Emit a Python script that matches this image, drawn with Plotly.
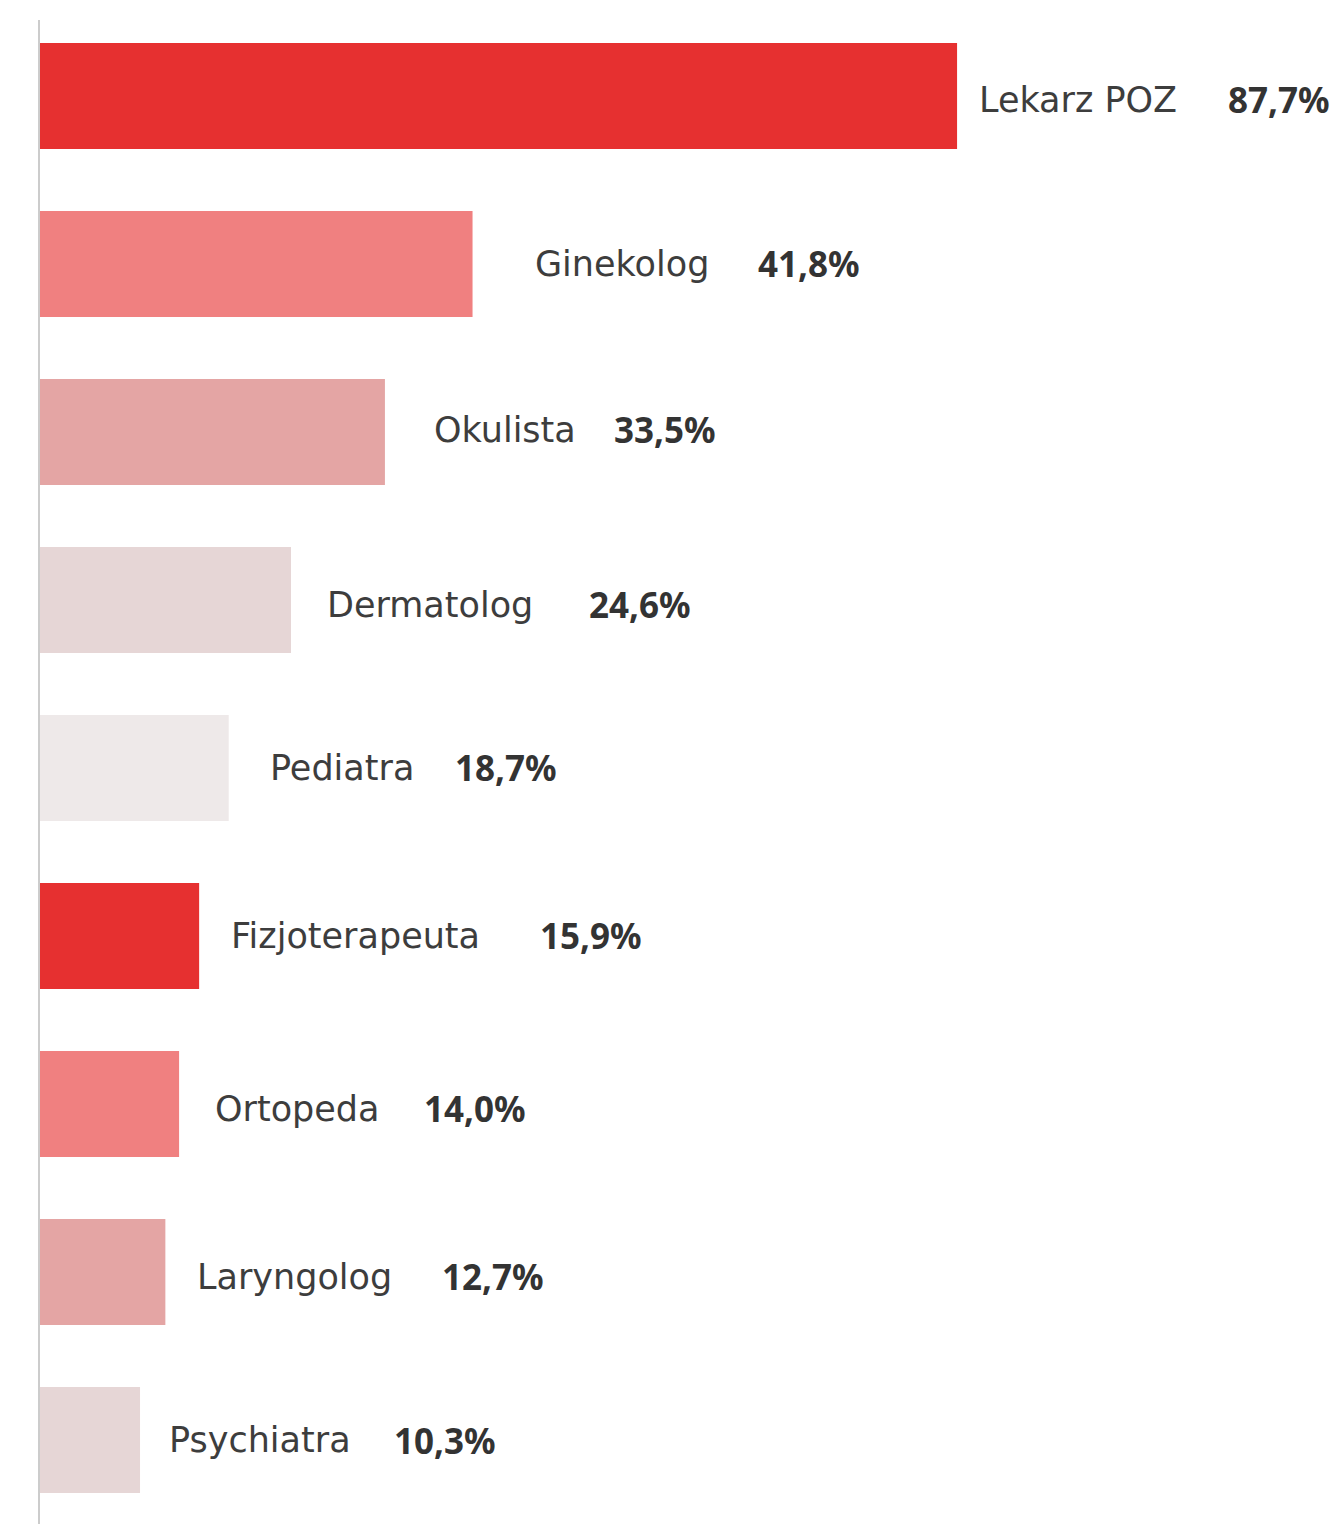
import plotly.graph_objects as go

categories = ["Lekarz POZ", "Ginekolog", "Okulista", "Dermatolog", "Pediatra",
              "Fizjoterapeuta", "Ortopeda", "Laryngolog", "Psychiatra"]
values = [87.7, 41.8, 33.5, 24.6, 18.7, 15.9, 14.0, 12.7, 10.3]
value_labels = ["87,7%", "41,8%", "33,5%", "24,6%", "18,7%", "15,9%", "14,0%", "12,7%", "10,3%"]

# styling
colors = ["#E63030", "#F08080", "#E4A5A4", "#E6D6D6", "#EEE9E9",
          "#E63030", "#F08080", "#E4A5A4", "#E6D6D6"]
name_shift = [20, 60, 47, 34, 39, 30, 34, 30, 27]
value_shift = [269, 283, 227, 296, 224, 339, 243, 275, 252]
text_yshift = [-4, 0, 2, -5, 0, 0, -5, -5, 0]

FONT = "DejaVu Sans"
VFONT = "Noto Sans"

fig = go.Figure(go.Bar(
    x=values, y=categories, orientation="h",
    marker=dict(color=colors, line=dict(width=0)),
    width=0.631, hoverinfo="skip",
))

annotations = []
for i, (c, v, lab) in enumerate(zip(categories, values, value_labels)):
    annotations.append(dict(x=v, y=c, xref="x", yref="y", text=c, showarrow=False,
                            xanchor="left", yanchor="middle", xshift=name_shift[i],
                            yshift=text_yshift[i],
                            font=dict(family=FONT, size=35, color="#3d3d3d")))
    annotations.append(dict(x=v, y=c, xref="x", yref="y", text="<b>" + lab + "</b>",
                            showarrow=False, xanchor="left", yanchor="middle",
                            xshift=value_shift[i], yshift=text_yshift[i],
                            font=dict(family=VFONT, size=35, color="#333333")))

fig.update_layout(
    width=1333, height=1516,
    margin=dict(l=32, r=0, t=12, b=0),
    paper_bgcolor="white", plot_bgcolor="white",
    showlegend=False,
    annotations=annotations,
    xaxis=dict(range=[0.824, 124.07], visible=False, fixedrange=True),
    yaxis=dict(categoryorder="array", categoryarray=categories,
               range=[8.5, -0.452], showticklabels=False, ticks="",
               showgrid=False, zeroline=False,
               showline=True, linecolor="#cccccc", linewidth=2, fixedrange=True),
)

fig.write_html("out.html", config={"displayModeBar": False})
